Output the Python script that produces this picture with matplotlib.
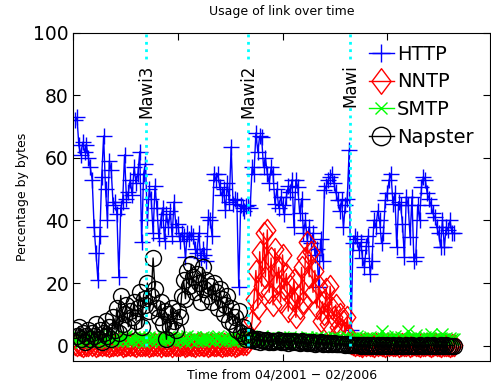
import numpy as np
import matplotlib.pyplot as plt
from matplotlib.path import Path

plt.rcParams['font.family'] = ['DejaVu Sans']

# weekly samples, 04/2001 - 02/2006
http = [72, 73, 64, 61, 65, 62, 64, 60, 57, 53, 38, 29.5, 21, 35, 54, 67, 50, 40, 59, 56,
        45, 46, 42, 22, 44, 46, 61, 47, 49, 53, 48, 57, 52, 55, 62, 33, 55, 58, 40, 50,
        47, 36, 51, 44, 34.5, 40, 44, 33.6, 42, 38, 43, 35, 46, 38, 39, 33.5, 36, 35, 28.3, 36,
        34, 36, 35, 31, 29.5, 36, 28, 31, 29, 27, 41, 40, 35, 55, 53, 55, 50.7, 48, 50, 43.3,
        52, 46, 63.6, 45.4, 47, 46.5, 18.7, 45, 44, 43, 44.5, 45, 44, 57, 55, 68, 62, 67, 66.8, 57,
        60, 55, 52, 57, 55, 45.4, 50, 44, 47.5, 45, 42, 47.5, 51, 49, 53, 38, 53, 50.7, 42.3, 47,
        36, 40, 33.6, 38, 32.7, 36, 29, 31, 18.7, 34, 27, 49.7, 51, 53, 54, 55, 52, 49, 46.5, 43,
        46.5, 38, 45, 47, 62.5, 5, 32.7, 35, 34, 30.5, 33, 28, 25, 32, 35, 23, 27, 40, 38, 43,
        40, 32.7, 36, 46.5, 48.7, 53, 55, 45.4, 48.7, 31.5, 46, 45, 39, 28.3, 47.5, 45, 34.7, 47.5, 27.2, 28.3,
        45, 40, 50.7, 54, 53, 48.7, 47, 45, 42.3, 41, 38, 36, 31.5, 40, 31.5, 38, 37, 40, 36, 36]

nntp = [0.4, 0.1, 0.6, 0.2, 0.0, 0.5, 0.3, 0.1, 0.7, 0.2, 0.4, 0.0, 0.3, 0.6, 0.1, 0.5, 0.2, 0.4, 0.0, 0.3,
        0.2, 0.5, 0.1, 0.4, 0.6, 0.0, 0.3, 0.2, 0.5, 0.1, 0.4, 0.3, 0.0, 0.6, 0.2, 0.1, 0.5, 0.3, 0.4, 0.0,
        0.3, 0.1, 0.5, 0.2, 0.4, 0.0, 0.6, 0.3, 0.1, 0.2, 0.5, 0.0, 0.4, 0.2, 0.3, 0.1, 0.6, 0.4, 0.0, 0.2,
        0.5, 0.1, 0.3, 0.0, 0.4, 0.2, 0.6, 0.1, 0.3, 0.5, 0.0, 0.2, 0.4, 0.1, 0.3, 0.6, 0.2, 0.0, 0.5, 0.3,
        0.1, 0.4, 0.2, 0.6, 0.0, 0.3, 0.5, 0.8, 0.4, 1.2, 0.6, 1, 3, 8, 15, 24, 12, 30, 19, 36,
        22, 37, 17, 28, 13, 31, 20, 25, 14, 29, 18, 23, 11, 19, 15, 21, 9, 16, 12, 25,
        14, 28, 33, 22, 30, 17, 24, 12, 19, 8, 14, 10, 18, 7, 19, 12, 9, 13, 6, 10,
        5, 8, 4, 9, 3, 0.8, 0.4, 0.2, 0.5, 0.1, 0.3, 0.0, 0.4, 0.2, 0.6, 0.1, 0.3, 0.0, 0.5, 0.2,
        0.4, 0.1, 0.3, 0.0, 0.5, 0.2, 0.4, 0.1, 0.3, 0.6, 0.0, 0.2, 0.4, 0.1, 0.3, 0.5, 0.0, 0.2, 0.4, 0.1,
        0.3, 0.0, 0.5, 0.2, 0.1, 0.4, 0.3, 0.0, 0.2, 0.5, 0.1, 0.3, 0.0, 0.4, 0.2, 0.1, 0.3, 0.0, 0.2, 0.1]

smtp = [2.1, 1.5, 2.8, 1.2, 2.4, 1.9, 3.0, 1.4, 2.2, 2.7, 1.6, 2.0, 2.9, 1.3, 2.5, 1.8, 2.6, 1.1, 2.3, 2.9,
        1.7, 2.4, 1.3, 2.8, 2.0, 1.5, 2.6, 3.1, 1.8, 2.2, 1.4, 2.7, 2.0, 1.6, 2.9, 2.3, 1.2, 2.5, 1.9, 2.8,
        1.5, 2.1, 2.7, 1.8, 2.4, 1.3, 3.0, 2.2, 1.6, 2.6, 1.9, 2.8, 1.4, 2.3, 2.0, 2.7, 1.7, 2.5, 1.2, 2.9,
        2.1, 1.6, 2.4, 2.8, 1.5, 2.2, 1.9, 2.6, 1.3, 2.7, 2.0, 1.8, 2.5, 1.4, 2.3, 2.9, 1.7, 2.1, 2.6, 1.5,
        2.4, 1.9, 2.7, 1.3, 2.2, 1.8, 2.5, 2.0, 1.6, 2.8, 1.4, 2.3, 1.9, 2.6, 1.5, 2.1, 2.4, 1.7, 2.9, 2.0,
        1.8, 2.5, 1.4, 2.2, 2.7, 1.6, 2.0, 2.4, 1.3, 2.6, 1.9, 2.2, 1.5, 2.8, 2.1, 1.7, 2.3, 2.5, 1.4, 2.0,
        2.2, 1.6, 2.6, 1.9, 2.4, 1.5, 2.1, 2.8, 1.8, 2.3, 1.4, 2.0, 2.5, 1.7, 2.2, 1.6, 2.7, 1.9, 2.3, 1.5,
        2.4, 2.0, 1.7, 2.6, 2.2, 1.8, 2.5, 1.6, 2.9, 2.1, 1.9, 2.4, 1.5, 2.3, 2.0, 2.7, 1.8, 2.2, 1.6, 2.5,
        2.0, 4.8, 2.3, 1.7, 2.6, 2.1, 1.9, 2.4, 3.2, 1.8, 2.2, 2.7, 1.6, 2.3, 2.0, 4.5, 2.1, 1.9, 2.5, 3.4,
        2.2, 1.8, 2.4, 2.0, 2.6, 1.9, 2.3, 3.8, 2.1, 2.5, 1.8, 2.2, 2.4, 3.6, 2.0, 2.3, 1.9, 2.5, 2.1, 2.2]

napster = [5, 3, 6, 2, 4, 1, 3, 5, 2, 4, 3, 7, 2, 5, 1, 4, 8, 3, 6, 2,
           9, 5, 12, 4, 16, 7, 10, 13, 6, 11, 9, 14, 8, 12, 17, 6, 15, 13, 20, 11,
           16, 28, 18, 12, 9, 14, 7, 11, 2, 10, 6, 12, 8, 5, 11, 9, 16, 21, 15, 24,
           19, 26, 22, 17, 23, 20, 14, 25, 18, 21, 16, 19, 14, 20, 17, 12, 18, 15, 10, 13,
           16, 8, 12, 7, 9, 5, 11, 4, 6, 3, 2, 3, 2.5, 1.8, 2.2, 1.5, 2.0, 1.2, 1.9, 1.6,
           1.4, 1.8, 1.2, 1.6, 1.0, 1.5, 1.3, 1.7, 1.1, 1.4, 1.2, 1.6, 0.9, 1.3, 1.1, 1.5, 1.0, 1.2, 0.8, 1.3,
           1.0, 1.2, 0.7, 1.1, 0.9, 1.0, 0.6, 0.9, 0.8, 1.0, 0.5, 0.8, 0.7, 0.6, 0.9, 0.5, 0.7, 0.4, 0.6, 0.5,
           0.4, 0.5, 0.3, 0.4, 0.2, 0.3, 0.1, 0.2, 0.1, 0.2, 0.0, 0.1, 0.1, 0.0, 0.1, 0.0, 0.1, 0.0, 0.0, 0.1,
           0.0, 0.1, 0.0, 0.0, 0.1, 0.0, 0.0, 0.1, 0.0, 0.0, 0.1, 0.0, 0.0, 0.0, 0.1, 0.0, 0.0, 0.1, 0.0, 0.0,
           0.0, 0.1, 0.0, 0.0, 0.0, 0.1, 0.0, 0.0, 0.1, 0.0, 0.0, 0.0, 0.1, 0.0, 0.0, 0.1, 0.0, 0.0, 0.0, 0.0]

mawi_x = [38.5, 92, 145.5]
mawi_labels = ['Mawi3', 'Mawi2', 'Mawi']

t = np.arange(1, len(http) + 1)

# MATLAB-style diamond (a bit taller than wide)
diamond = Path([(0, 1), (0.75, 0), (0, -1), (-0.75, 0), (0, 1)],
               [Path.MOVETO, Path.LINETO, Path.LINETO, Path.LINETO, Path.CLOSEPOLY])

fig = plt.figure(figsize=(4.91, 3.83), dpi=100)
ax = fig.add_axes([0.149, 0.057, 0.849, 0.857])

ax.plot(t, http, color='blue', marker='+', markersize=11, lw=1, label='HTTP')
ax.plot(t, nntp, color='red', marker=diamond, markersize=16, mfc='none', lw=1, label='NNTP')
ax.plot(t, smtp, color=(0, 1, 0), marker='x', markersize=8, lw=1, label='SMTP')
ax.plot(t, napster, color='black', marker='o', markersize=11.5, mfc='none', lw=1, label='Napster')

for xm, name in zip(mawi_x, mawi_labels):
    ax.plot([xm, xm], [0, 100], color='cyan', ls=':', lw=2)
    ax.text(xm, 90, name, rotation=90, ha='center', va='top', fontsize=12,
            bbox=dict(facecolor='white', edgecolor='none', pad=1))

ax.set_xlim(0, 219)
ax.set_ylim(-5, 100)
ax.set_xticks([0, 55, 110, 165])
ax.set_xticklabels([])
ax.set_yticks([0, 20, 40, 60, 80, 100])
ax.tick_params(direction='in', top=True, right=True, length=5, labelsize=13.5, pad=3)

ax.set_title('Usage of link over time', fontsize=9, pad=13)
ax.set_xlabel('Time from 04/2001 \u2212 02/2006', fontsize=9, labelpad=2)
ax.set_ylabel('Percentage by bytes', fontsize=9, labelpad=3)

ax.legend(loc='upper right', bbox_to_anchor=(0.988, 1.0), frameon=False, fontsize=14,
          handlelength=1.3, handletextpad=0.15, labelspacing=0.45, borderaxespad=0.2,
          markerscale=1.15)

plt.savefig('out.png', dpi=100)
